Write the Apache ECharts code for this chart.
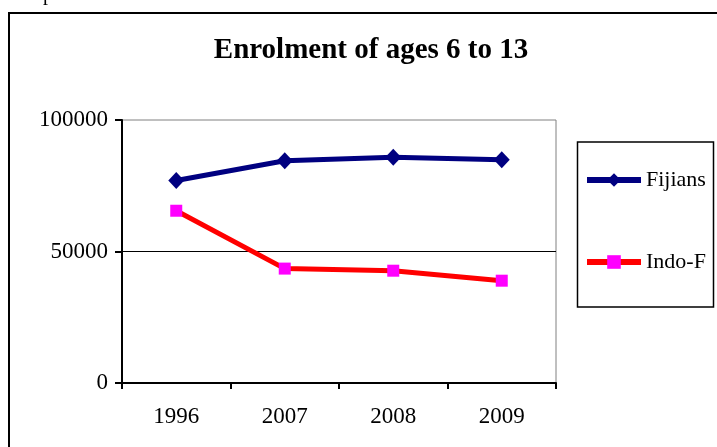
<!DOCTYPE html>
<html>
<head>
<meta charset="utf-8">
<script src="https://cdn.jsdelivr.net/npm/echarts@6/dist/echarts.min.js"></script>
<style>
  html, body { margin: 0; padding: 0; background: #fff; }
  #chart { width: 717px; height: 447px; }
</style>
</head>
<body>
<div id="chart"></div>
<script>
// Enrolment figures, ages 6 to 13
const years = ['1996', '2007', '2008', '2009'];
const fijians = [77000, 84500, 85800, 84900];
const indoFijians = [65500, 43500, 42700, 38900];
const yTicks = [0, 50000, 100000];

const serif = '"Liberation Serif", "Times New Roman", serif';
const chart = echarts.init(document.getElementById('chart'));

chart.setOption({
  backgroundColor: '#fff',
  animation: false,
  title: {
    text: 'Enrolment of ages 6 to 13',
    left: 366,
    textAlign: 'center',
    top: 31,
    textStyle: { fontFamily: serif, fontWeight: 'bold', fontSize: 29, color: '#000' }
  },
  grid: {
    left: 122, right: 161, top: 120, bottom: 64,
    show: true, borderColor: '#808080', borderWidth: 1, backgroundColor: '#fff'
  },
  legend: {
    orient: 'vertical',
    left: 579,
    top: 164,
    padding: 5,
    itemWidth: 54,
    itemHeight: 17,
    itemGap: 60,
    lineStyle: { width: 6 },
    textStyle: { fontFamily: serif, fontSize: 22, color: '#000', lineHeight: 22 },
    data: ['Fijians', 'Indo-F']
  },
  xAxis: {
    type: 'category',
    data: years,
    boundaryGap: true,
    axisLine: { lineStyle: { color: '#000', width: 2 } },
    axisTick: { show: true, length: 6, inside: false, lineStyle: { color: '#000', width: 2 } },
    axisLabel: { fontFamily: serif, fontSize: 23, color: '#000', margin: 22 }
  },
  yAxis: {
    type: 'value',
    min: yTicks[0],
    max: yTicks[yTicks.length - 1],
    interval: yTicks[1] - yTicks[0],
    axisLine: { show: true, lineStyle: { color: '#000', width: 2 } },
    axisTick: { show: true, length: 7, lineStyle: { color: '#000', width: 2 } },
    axisLabel: { fontFamily: serif, fontSize: 23, color: '#000', margin: 14, formatter: (v) => String(v) },
    splitLine: { show: true, showMinLine: false, showMaxLine: false, lineStyle: { color: '#000', width: 1 } }
  },
  series: [
    {
      name: 'Fijians',
      type: 'line',
      data: fijians,
      symbol: 'diamond',
      symbolSize: [16, 17],
      lineStyle: { color: '#000080', width: 5 },
      itemStyle: { color: '#000080' }
    },
    {
      name: 'Indo-F',
      type: 'line',
      data: indoFijians,
      symbol: 'rect',
      symbolSize: 12,
      lineStyle: { color: '#ff0000', width: 5 },
      itemStyle: { color: '#ff00ff' }
    }
  ],
  graphic: [
    {
      type: 'rect',
      shape: { x: 9, y: 13, width: 740, height: 470 },
      style: { fill: null, stroke: '#000', lineWidth: 2 },
      silent: true, z: -1
    },
    {
      type: 'rect',
      shape: { x: 577.5, y: 142, width: 136, height: 165 },
      style: { fill: null, stroke: '#000', lineWidth: 1.5 },
      silent: true
    },
    {
      type: 'text',
      x: 43, y: 5,
      style: { text: 'p', font: '20px ' + serif, fill: '#000', textVerticalAlign: 'bottom' },
      silent: true
    }
  ]
});
</script>
</body>
</html>
